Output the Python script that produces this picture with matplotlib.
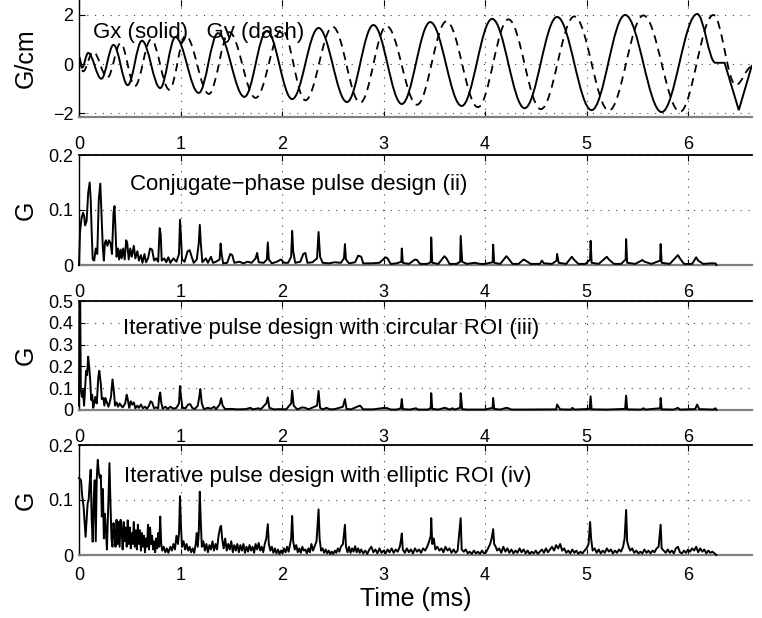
import matplotlib
matplotlib.use("Agg")
import matplotlib.pyplot as plt
from matplotlib.path import Path
from matplotlib.patches import PathPatch

plt.rcParams["font.family"] = ["Liberation Sans", "DejaVu Sans"]

# ── Gradient waveforms: extrema (t in ms, G/cm) ───────────────────────────────
gx_t = [0.00, 0.03, 0.09, 0.22, 0.34, 0.48, 0.62, 0.80, 0.95, 1.18, 1.37, 1.63,
        1.85, 2.10, 2.36, 2.64, 2.90, 3.18, 3.46, 3.77, 4.07, 4.39, 4.71, 5.05,
        5.38, 5.74, 6.09, 6.27]
gx_v = [0.15, -0.15, 0.45, -0.60, 0.78, -0.86, 0.95, -0.98, 1.10, -1.18, 1.26,
        -1.34, 1.35, -1.43, 1.47, -1.55, 1.59, -1.63, 1.71, -1.71, 1.84, -1.80,
        1.92, -1.88, 2.00, -1.96, 2.04, 0.05]
gx_tail_t = [6.36, 6.50, 6.63]
gx_tail_v = [0.05, -1.88, -0.04]

gy_t = [0.00, 0.04, 0.14, 0.28, 0.41, 0.55, 0.71, 0.89, 1.05, 1.28, 1.48, 1.74,
        2.00, 2.23, 2.50, 2.77, 3.03, 3.33, 3.62, 3.93, 4.23, 4.55, 4.88, 5.22,
        5.56, 5.92, 6.25, 6.47, 6.63]
gy_v = [0.30, -0.30, 0.50, -0.55, 0.85, -0.90, 1.00, -1.05, 1.15, -1.22, 1.30,
        -1.38, 1.40, -1.48, 1.52, -1.58, 1.55, -1.66, 1.74, -1.76, 1.82, -1.84,
        1.94, -1.90, 1.98, -1.95, 2.00, -0.86, -0.10]

# ── |B1| of the three pulse designs (t in ms, Gauss) ─────────────────────────
t_cp = [0.000, 0.010, 0.025, 0.040, 0.050, 0.060, 0.075, 0.090, 0.105, 0.115,
        0.125, 0.135, 0.150, 0.165, 0.180, 0.195, 0.210, 0.220, 0.235, 0.245,
        0.255, 0.265, 0.280, 0.295, 0.310, 0.325, 0.340, 0.350, 0.360, 0.370,
        0.385, 0.395, 0.410, 0.420, 0.435, 0.450, 0.465, 0.475, 0.490, 0.505,
        0.520, 0.540, 0.555, 0.575, 0.590, 0.610, 0.625, 0.645, 0.660, 0.680,
        0.700, 0.720, 0.740, 0.760, 0.780, 0.795, 0.805, 0.815, 0.840, 0.860,
        0.880, 0.900, 0.930, 0.960, 0.985, 0.995, 1.005, 1.015, 1.040, 1.070,
        1.090, 1.110, 1.130, 1.160, 1.180, 1.190, 1.200, 1.215, 1.250, 1.270,
        1.300, 1.320, 1.350, 1.385, 1.395, 1.405, 1.420, 1.460, 1.490, 1.510,
        1.530, 1.580, 1.620, 1.660, 1.700, 1.740, 1.755, 1.770, 1.820, 1.850,
        1.860, 1.870, 1.900, 1.950, 1.990, 2.020, 2.060, 2.090, 2.100, 2.110,
        2.130, 2.180, 2.210, 2.230, 2.250, 2.300, 2.345, 2.360, 2.375, 2.400,
        2.460, 2.520, 2.580, 2.610, 2.620, 2.630, 2.660, 2.720, 2.750, 2.780,
        2.800, 2.880, 2.960, 3.020, 3.040, 3.070, 3.130, 3.175, 3.180, 3.190,
        3.250, 3.310, 3.330, 3.360, 3.430, 3.465, 3.470, 3.480, 3.540, 3.600,
        3.620, 3.650, 3.720, 3.755, 3.760, 3.775, 3.820, 3.860, 3.900, 3.950,
        4.000, 4.075, 4.080, 4.090, 4.150, 4.210, 4.230, 4.270, 4.330, 4.380,
        4.400, 4.450, 4.540, 4.560, 4.580, 4.660, 4.705, 4.710, 4.725, 4.800,
        4.855, 4.875, 4.920, 4.990, 5.035, 5.040, 5.050, 5.120, 5.200, 5.220,
        5.270, 5.340, 5.385, 5.390, 5.400, 5.480, 5.550, 5.570, 5.640, 5.725,
        5.730, 5.740, 5.820, 5.900, 5.920, 5.960, 6.040, 6.080, 6.100, 6.150,
        6.220, 6.270, 6.280]
b_cp = [0.000, 0.060, 0.085, 0.095, 0.090, 0.072, 0.080, 0.130, 0.150, 0.120,
        0.060, 0.010, 0.008, 0.030, 0.020, 0.120, 0.148, 0.100, 0.030, 0.008,
        0.040, 0.045, 0.035, 0.045, 0.040, 0.020, 0.095, 0.107, 0.060, 0.015,
        0.030, 0.010, 0.028, 0.012, 0.030, 0.010, 0.045, 0.040, 0.010, 0.030,
        0.015, 0.035, 0.012, 0.025, 0.008, 0.018, 0.004, 0.020, 0.005, 0.012,
        0.030, 0.028, 0.008, 0.012, 0.006, 0.067, 0.055, 0.008, 0.012, 0.005,
        0.014, 0.004, 0.012, 0.006, 0.020, 0.082, 0.050, 0.010, 0.006, 0.025,
        0.027, 0.015, 0.004, 0.010, 0.040, 0.073, 0.040, 0.005, 0.012, 0.004,
        0.015, 0.004, 0.006, 0.010, 0.039, 0.020, 0.003, 0.004, 0.020, 0.018,
        0.004, 0.006, 0.003, 0.006, 0.004, 0.012, 0.022, 0.005, 0.004, 0.010,
        0.041, 0.010, 0.003, 0.006, 0.010, 0.004, 0.004, 0.015, 0.062, 0.025,
        0.004, 0.006, 0.020, 0.022, 0.004, 0.005, 0.012, 0.060, 0.015, 0.004,
        0.003, 0.005, 0.004, 0.012, 0.038, 0.010, 0.003, 0.005, 0.017, 0.015,
        0.003, 0.003, 0.004, 0.014, 0.012, 0.002, 0.003, 0.006, 0.030, 0.004,
        0.002, 0.010, 0.009, 0.002, 0.002, 0.005, 0.050, 0.004, 0.002, 0.016,
        0.012, 0.002, 0.002, 0.006, 0.053, 0.006, 0.002, 0.003, 0.004, 0.002,
        0.002, 0.005, 0.037, 0.004, 0.002, 0.016, 0.012, 0.002, 0.002, 0.010,
        0.008, 0.002, 0.002, 0.008, 0.003, 0.002, 0.008, 0.020, 0.004, 0.002,
        0.015, 0.010, 0.002, 0.002, 0.010, 0.044, 0.004, 0.002, 0.015, 0.010,
        0.002, 0.002, 0.010, 0.047, 0.004, 0.002, 0.009, 0.006, 0.002, 0.008,
        0.038, 0.004, 0.002, 0.018, 0.012, 0.002, 0.002, 0.014, 0.008, 0.002,
        0.003, 0.003, 0.000]

t_circ = [0.000, 0.004, 0.012, 0.018, 0.030, 0.040, 0.050, 0.062, 0.070, 0.080,
          0.090, 0.100, 0.110, 0.120, 0.130, 0.140, 0.150, 0.160, 0.175, 0.190,
          0.200, 0.215, 0.225, 0.240, 0.250, 0.260, 0.275, 0.290, 0.300, 0.315,
          0.330, 0.345, 0.355, 0.370, 0.385, 0.400, 0.415, 0.430, 0.455, 0.470,
          0.480, 0.495, 0.510, 0.525, 0.540, 0.555, 0.575, 0.590, 0.610, 0.630,
          0.650, 0.670, 0.690, 0.705, 0.720, 0.740, 0.760, 0.780, 0.790, 0.800,
          0.810, 0.825, 0.850, 0.875, 0.900, 0.930, 0.960, 0.985, 0.995, 1.005,
          1.020, 1.050, 1.075, 1.095, 1.115, 1.140, 1.170, 1.185, 1.195, 1.210,
          1.230, 1.270, 1.300, 1.330, 1.350, 1.385, 1.400, 1.415, 1.440, 1.500,
          1.560, 1.640, 1.690, 1.710, 1.770, 1.790, 1.845, 1.860, 1.875, 1.920,
          1.980, 2.040, 2.090, 2.100, 2.115, 2.150, 2.200, 2.230, 2.260, 2.345,
          2.360, 2.375, 2.400, 2.440, 2.470, 2.520, 2.600, 2.620, 2.635, 2.680,
          2.740, 2.770, 2.800, 2.900, 3.010, 3.040, 3.070, 3.130, 3.170, 3.180,
          3.190, 3.260, 3.320, 3.340, 3.440, 3.465, 3.470, 3.480, 3.540, 3.600,
          3.620, 3.650, 3.680, 3.700, 3.755, 3.760, 3.775, 3.820, 3.920, 4.000,
          4.075, 4.080, 4.090, 4.150, 4.210, 4.230, 4.260, 4.400, 4.700, 4.710,
          4.740, 4.850, 4.860, 4.880, 5.030, 5.040, 5.050, 5.200, 5.380, 5.390,
          5.400, 5.540, 5.560, 5.580, 5.725, 5.730, 5.740, 5.860, 5.900, 5.920,
          6.070, 6.090, 6.110, 6.250, 6.270, 6.280]
b_circ = [0.020, 0.500, 0.500, 0.090, 0.060, 0.092, 0.020, 0.120, 0.180, 0.160,
          0.245, 0.200, 0.140, 0.046, 0.070, 0.010, 0.030, 0.060, 0.030, 0.150,
          0.180, 0.120, 0.050, 0.055, 0.020, 0.055, 0.035, 0.015, 0.030, 0.060,
          0.140, 0.080, 0.020, 0.035, 0.015, 0.030, 0.020, 0.012, 0.030, 0.070,
          0.050, 0.010, 0.040, 0.025, 0.035, 0.008, 0.020, 0.010, 0.025, 0.008,
          0.015, 0.006, 0.020, 0.040, 0.035, 0.008, 0.012, 0.008, 0.060, 0.080,
          0.035, 0.006, 0.015, 0.005, 0.015, 0.006, 0.010, 0.030, 0.110, 0.060,
          0.010, 0.008, 0.025, 0.027, 0.010, 0.004, 0.020, 0.060, 0.096, 0.030,
          0.004, 0.010, 0.006, 0.015, 0.004, 0.025, 0.054, 0.020, 0.004, 0.005,
          0.003, 0.004, 0.010, 0.003, 0.008, 0.003, 0.030, 0.058, 0.010, 0.003,
          0.004, 0.003, 0.030, 0.089, 0.020, 0.003, 0.012, 0.010, 0.003, 0.020,
          0.087, 0.010, 0.003, 0.010, 0.003, 0.004, 0.015, 0.050, 0.005, 0.003,
          0.015, 0.020, 0.003, 0.003, 0.010, 0.008, 0.002, 0.002, 0.008, 0.050,
          0.004, 0.002, 0.008, 0.002, 0.002, 0.010, 0.077, 0.005, 0.002, 0.010,
          0.008, 0.002, 0.008, 0.002, 0.010, 0.077, 0.004, 0.002, 0.002, 0.002,
          0.010, 0.055, 0.005, 0.002, 0.010, 0.008, 0.002, 0.002, 0.003, 0.025,
          0.003, 0.002, 0.010, 0.002, 0.005, 0.063, 0.003, 0.002, 0.005, 0.066,
          0.003, 0.002, 0.008, 0.002, 0.008, 0.055, 0.003, 0.002, 0.010, 0.002,
          0.004, 0.025, 0.004, 0.002, 0.008, 0.000]

t_ell = [0.000, 0.010, 0.020, 0.030, 0.045, 0.055, 0.065, 0.075, 0.085, 0.095,
         0.105, 0.115, 0.125, 0.135, 0.145, 0.155, 0.165, 0.175, 0.185, 0.195,
         0.205, 0.215, 0.225, 0.235, 0.245, 0.255, 0.265, 0.275, 0.290, 0.300,
         0.310, 0.320, 0.330, 0.340, 0.350, 0.360, 0.370, 0.380, 0.390, 0.400,
         0.410, 0.420, 0.430, 0.440, 0.450, 0.460, 0.470, 0.480, 0.490, 0.500,
         0.510, 0.520, 0.530, 0.540, 0.550, 0.560, 0.570, 0.580, 0.590, 0.600,
         0.610, 0.620, 0.630, 0.640, 0.650, 0.660, 0.670, 0.680, 0.690, 0.700,
         0.710, 0.720, 0.730, 0.740, 0.750, 0.760, 0.770, 0.780, 0.790, 0.800,
         0.810, 0.820, 0.835, 0.850, 0.865, 0.880, 0.900, 0.915, 0.930, 0.945,
         0.960, 0.975, 0.985, 0.995, 1.005, 1.015, 1.030, 1.045, 1.060, 1.075,
         1.090, 1.105, 1.120, 1.135, 1.150, 1.160, 1.170, 1.180, 1.190, 1.200,
         1.210, 1.225, 1.240, 1.255, 1.270, 1.285, 1.300, 1.315, 1.330, 1.345,
         1.360, 1.375, 1.390, 1.400, 1.410, 1.425, 1.440, 1.455, 1.470, 1.485,
         1.500, 1.515, 1.530, 1.545, 1.560, 1.575, 1.590, 1.605, 1.620, 1.635,
         1.650, 1.665, 1.680, 1.695, 1.710, 1.725, 1.740, 1.755, 1.770, 1.785,
         1.800, 1.815, 1.830, 1.845, 1.860, 1.870, 1.885, 1.900, 1.915, 1.930,
         1.945, 1.960, 1.975, 1.990, 2.005, 2.020, 2.035, 2.050, 2.065, 2.080,
         2.090, 2.100, 2.110, 2.125, 2.140, 2.155, 2.170, 2.185, 2.200, 2.215,
         2.230, 2.245, 2.260, 2.275, 2.290, 2.305, 2.320, 2.340, 2.360, 2.370,
         2.385, 2.400, 2.415, 2.430, 2.445, 2.460, 2.475, 2.490, 2.505, 2.520,
         2.535, 2.550, 2.565, 2.580, 2.600, 2.620, 2.630, 2.645, 2.660, 2.675,
         2.690, 2.705, 2.720, 2.735, 2.750, 2.765, 2.780, 2.800, 2.820, 2.840,
         2.860, 2.880, 2.900, 2.920, 2.940, 2.960, 2.980, 3.000, 3.020, 3.040,
         3.060, 3.080, 3.100, 3.120, 3.140, 3.160, 3.170, 3.180, 3.190, 3.210,
         3.230, 3.250, 3.270, 3.290, 3.310, 3.330, 3.350, 3.370, 3.390, 3.410,
         3.430, 3.450, 3.465, 3.470, 3.480, 3.495, 3.510, 3.530, 3.550, 3.570,
         3.590, 3.610, 3.630, 3.650, 3.670, 3.690, 3.710, 3.730, 3.760, 3.770,
         3.790, 3.810, 3.830, 3.850, 3.870, 3.890, 3.910, 3.930, 3.950, 3.970,
         3.990, 4.010, 4.030, 4.050, 4.065, 4.080, 4.090, 4.105, 4.120, 4.140,
         4.160, 4.180, 4.200, 4.220, 4.240, 4.260, 4.280, 4.300, 4.320, 4.340,
         4.360, 4.380, 4.400, 4.420, 4.440, 4.460, 4.480, 4.500, 4.520, 4.540,
         4.560, 4.580, 4.600, 4.620, 4.640, 4.660, 4.680, 4.700, 4.720, 4.740,
         4.760, 4.780, 4.800, 4.820, 4.840, 4.860, 4.880, 4.900, 4.920, 4.940,
         4.960, 4.980, 5.000, 5.020, 5.035, 5.045, 5.060, 5.080, 5.100, 5.120,
         5.140, 5.160, 5.180, 5.200, 5.220, 5.240, 5.260, 5.280, 5.300, 5.320,
         5.340, 5.360, 5.375, 5.390, 5.400, 5.415, 5.430, 5.450, 5.470, 5.490,
         5.510, 5.530, 5.550, 5.570, 5.590, 5.610, 5.630, 5.650, 5.670, 5.690,
         5.710, 5.730, 5.740, 5.760, 5.780, 5.800, 5.820, 5.840, 5.860, 5.880,
         5.900, 5.920, 5.940, 5.960, 5.980, 6.000, 6.020, 6.040, 6.060, 6.080,
         6.100, 6.120, 6.140, 6.160, 6.180, 6.200, 6.220, 6.240, 6.260, 6.280]
b_ell = [0.140, 0.138, 0.136, 0.110, 0.088, 0.060, 0.033, 0.064, 0.094, 0.100,
         0.130, 0.155, 0.064, 0.024, 0.100, 0.136, 0.025, 0.140, 0.173, 0.150,
         0.140, 0.145, 0.070, 0.120, 0.030, 0.075, 0.045, 0.010, 0.100, 0.167,
         0.094, 0.030, 0.015, 0.058, 0.040, 0.015, 0.064, 0.020, 0.060, 0.015,
         0.064, 0.045, 0.010, 0.060, 0.025, 0.050, 0.015, 0.063, 0.020, 0.050,
         0.012, 0.040, 0.020, 0.060, 0.015, 0.045, 0.010, 0.055, 0.020, 0.045,
         0.008, 0.040, 0.015, 0.035, 0.005, 0.030, 0.015, 0.055, 0.010, 0.050,
         0.020, 0.035, 0.010, 0.025, 0.005, 0.030, 0.012, 0.040, 0.015, 0.070,
         0.020, 0.008, 0.015, 0.005, 0.012, 0.004, 0.015, 0.008, 0.020, 0.010,
         0.035, 0.020, 0.040, 0.107, 0.050, 0.015, 0.025, 0.010, 0.020, 0.008,
         0.015, 0.005, 0.012, 0.004, 0.020, 0.040, 0.015, 0.040, 0.115, 0.060,
         0.015, 0.025, 0.008, 0.020, 0.005, 0.018, 0.010, 0.025, 0.008, 0.020,
         0.010, 0.035, 0.050, 0.053, 0.030, 0.012, 0.030, 0.008, 0.020, 0.010,
         0.025, 0.005, 0.018, 0.008, 0.020, 0.005, 0.018, 0.008, 0.020, 0.004,
         0.015, 0.006, 0.018, 0.008, 0.015, 0.004, 0.020, 0.010, 0.022, 0.008,
         0.015, 0.005, 0.020, 0.030, 0.056, 0.020, 0.008, 0.015, 0.004, 0.012,
         0.003, 0.010, 0.002, 0.008, 0.003, 0.012, 0.005, 0.015, 0.006, 0.020,
         0.030, 0.071, 0.025, 0.010, 0.018, 0.005, 0.012, 0.004, 0.015, 0.008,
         0.010, 0.003, 0.012, 0.005, 0.020, 0.008, 0.015, 0.025, 0.083, 0.030,
         0.008, 0.012, 0.004, 0.010, 0.003, 0.008, 0.002, 0.006, 0.002, 0.008,
         0.004, 0.012, 0.006, 0.015, 0.020, 0.055, 0.015, 0.005, 0.015, 0.004,
         0.012, 0.006, 0.016, 0.005, 0.012, 0.004, 0.010, 0.003, 0.008, 0.002,
         0.010, 0.015, 0.005, 0.010, 0.003, 0.012, 0.004, 0.008, 0.003, 0.010,
         0.005, 0.012, 0.004, 0.010, 0.006, 0.015, 0.025, 0.039, 0.010, 0.004,
         0.012, 0.005, 0.010, 0.003, 0.012, 0.006, 0.010, 0.004, 0.012, 0.008,
         0.015, 0.025, 0.035, 0.067, 0.020, 0.030, 0.010, 0.015, 0.008, 0.012,
         0.005, 0.015, 0.008, 0.012, 0.004, 0.010, 0.004, 0.008, 0.067, 0.010,
         0.006, 0.010, 0.003, 0.006, 0.002, 0.008, 0.003, 0.006, 0.002, 0.008,
         0.003, 0.005, 0.012, 0.020, 0.030, 0.047, 0.020, 0.015, 0.008, 0.012,
         0.004, 0.015, 0.006, 0.012, 0.004, 0.010, 0.003, 0.008, 0.004, 0.012,
         0.005, 0.010, 0.003, 0.008, 0.002, 0.006, 0.003, 0.008, 0.002, 0.006,
         0.010, 0.004, 0.012, 0.005, 0.010, 0.015, 0.008, 0.018, 0.012, 0.020,
         0.008, 0.012, 0.004, 0.008, 0.003, 0.010, 0.004, 0.008, 0.002, 0.006,
         0.003, 0.008, 0.012, 0.020, 0.060, 0.030, 0.008, 0.012, 0.004, 0.010,
         0.003, 0.008, 0.004, 0.012, 0.006, 0.010, 0.003, 0.008, 0.004, 0.010,
         0.006, 0.015, 0.030, 0.082, 0.025, 0.015, 0.008, 0.012, 0.004, 0.008,
         0.003, 0.006, 0.003, 0.010, 0.004, 0.008, 0.003, 0.008, 0.005, 0.012,
         0.015, 0.055, 0.012, 0.008, 0.004, 0.010, 0.004, 0.008, 0.003, 0.012,
         0.015, 0.005, 0.003, 0.008, 0.004, 0.010, 0.006, 0.012, 0.008, 0.015,
         0.005, 0.012, 0.006, 0.010, 0.003, 0.008, 0.004, 0.006, 0.003, 0.000]

panel_labels = ["Conjugate\u2212phase pulse design (ii)",
                "Iterative pulse design with circular ROI (iii)",
                "Iterative pulse design with elliptic ROI (iv)"]
panel_ylims = [0.2, 0.5, 0.2]
panel_yticks = [[0, 0.1, 0.2], [0, 0.1, 0.2, 0.3, 0.4, 0.5], [0, 0.1, 0.2]]
panel_text_pos = [(0.50, 0.147), (0.43, 0.376), (0.44, 0.142)]

T_MAX = 6.63
K_BEZ = 0.3634  # control offset that makes a cubic look like half a cosine


def smooth_path(ts, vs, tail_t=(), tail_v=()):
    """Cubic Bezier through the extrema (flat at each), then straight tail."""
    verts = [(ts[0], vs[0])]
    codes = [Path.MOVETO]
    for i in range(1, len(ts)):
        t0, v0, t1, v1 = ts[i - 1], vs[i - 1], ts[i], vs[i]
        k = K_BEZ * (t1 - t0)
        verts += [(t0 + k, v0), (t1 - k, v1), (t1, v1)]
        codes += [Path.CURVE4] * 3
    for t, v in zip(tail_t, tail_v):
        verts.append((t, v))
        codes.append(Path.LINETO)
    return Path(verts, codes)


def style_axes(ax, show_top=True, xpad=14):
    ax.set_xlim(0, T_MAX)
    ax.set_xticks(range(7))
    ax.grid(True, color="0.25", linestyle=(0, (1, 6)), linewidth=0.8)
    ax.tick_params(direction="in", top=True, length=4, labelsize=13, pad=4)
    ax.tick_params(axis="x", pad=xpad)
    ax.spines["right"].set_visible(False)
    ax.spines["top"].set_visible(show_top)
    ax.spines["top"].set_linewidth(1.3)
    ax.spines["left"].set_linewidth(1.0)
    ax.spines["bottom"].set_color("#808080")
    ax.spines["bottom"].set_linewidth(1.6)
    ax.yaxis.set_label_coords(-0.062, 0.5)


W, H = 762, 618
fig = plt.figure(figsize=(W / 100, H / 100), dpi=100)
left, width = 79 / W, (752 - 79) / W

# ── top panel: gradients ─────────────────────────────────────────────────────
ax0 = fig.add_axes([left, 1 - 117 / H, width, 117 / H])
style_axes(ax0, show_top=False)
ax0.set_ylim(-2.16, 2.61)
ax0.set_yticks([-2, 0, 2])
ax0.add_patch(PathPatch(smooth_path(gx_t, gx_v, gx_tail_t, gx_tail_v),
                        fill=False, edgecolor="black", linewidth=1.4, zorder=3))
ax0.add_patch(PathPatch(smooth_path(gy_t, gy_v),
                        fill=False, edgecolor="black", linewidth=1.3,
                        linestyle=(0, (4.5, 3.2)), zorder=3))
ax0.text(0.14, 1.3, "Gx (solid)   Gy (dash)", fontsize=16, va="center")
ax0.set_ylabel("G/cm", fontsize=18)

# ── pulse panels ─────────────────────────────────────────────────────────────
rects = [(155, 265), (301, 410), (445, 555)]
series = [(t_cp, b_cp), (t_circ, b_circ), (t_ell, b_ell)]
for i, ((top, bot), (ts, bs)) in enumerate(zip(rects, series)):
    ax = fig.add_axes([left, 1 - bot / H, width, (bot - top) / H])
    style_axes(ax, xpad=14 if i < 2 else 9)
    ax.set_ylim(0, panel_ylims[i])
    ax.set_yticks(panel_yticks[i])
    ax.set_yticklabels([f"{v:g}" for v in panel_yticks[i]])
    ax.plot(ts, bs, color="black", linewidth=1.4, zorder=3, clip_on=False)
    tx, ty = panel_text_pos[i]
    ax.text(tx, ty, panel_labels[i], fontsize=16, va="center")
    ax.set_ylabel("G", fontsize=18)
    if i == 2:
        ax.set_xlabel("Time (ms)", fontsize=18, labelpad=2)

fig.savefig("out.png", dpi=100)
